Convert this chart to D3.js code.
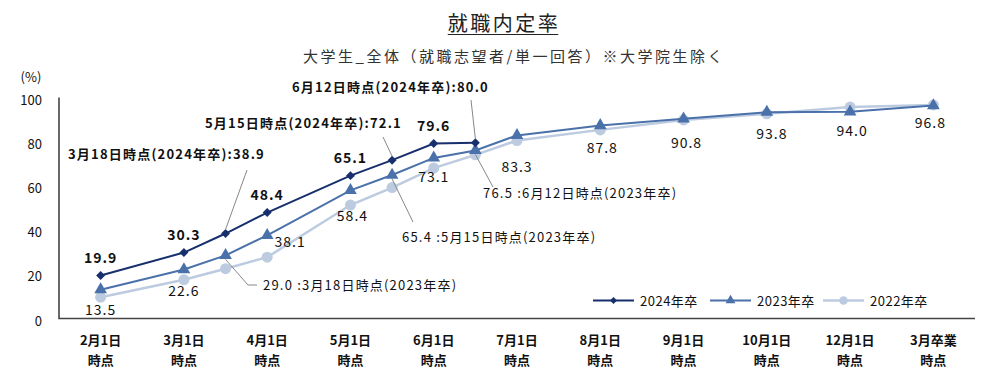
<!DOCTYPE html>
<html>
<head>
<meta charset="utf-8">
<script src="https://cdn.jsdelivr.net/npm/d3@7"></script>
<style>
  body { margin: 0; background: #fff; }
  svg text { font-family: "Noto Sans CJK JP", "Noto Sans", sans-serif; fill: #111; }
</style>
</head>
<body>
<div id="chart"></div>
<script>
// axis categories (labelled) and every date that has a measurement
const categories = ['2月1日', '3月1日', '4月1日', '5月1日', '6月1日', '7月1日', '8月1日', '9月1日', '10月1日', '12月1日', '3月卒業'];
const dates = ['2月1日', '3月1日', '3月18日', '4月1日', '5月1日', '5月15日', '6月1日', '6月12日', '7月1日', '8月1日', '9月1日', '10月1日', '12月1日', '3月卒業'];
const yTicks = [0, 20, 40, 60, 80, 100];

const s2024 = [19.9, 30.3, 38.9, 48.4, 65.1, 72.1, 79.6, 80.0];
const s2023 = [13.5, 22.6, 29.0, 38.1, 58.4, 65.4, 73.1, 76.5, 83.3, 87.8, 90.8, 93.8, 94.0, 96.8];
const s2022 = [10.1, 18.0, 23.0, 28.2, 51.8, 59.7, 68.5, 74.5, 81.0, 85.8, 90.3, 93.1, 96.1, 97.1];

const seriesNames = ['2024年卒', '2023年卒', '2022年卒'];
const calloutDates = ['3月18日', '5月15日', '6月12日'];

const width = 1000, height = 377;
const svg = d3.select('#chart').append('svg')
    .attr('width', width)
    .attr('height', height);

const x = d3.scaleBand().domain(categories).range([59, 975]).padding(0);
const y = d3.scaleLinear().domain([0, 100]).range([319.5, 98.5]);

// dates between two categories sit half way
function xPos(date) {
    if (categories.includes(date)) return x(date) + x.bandwidth() / 2;
    let i = dates.indexOf(date);
    return (xPos(dates[i - 1]) + xPos(dates[i + 1])) / 2;
}

// title
let title = svg.append('text')
    .attr('x', 504).attr('y', 31)
    .attr('text-anchor', 'middle')
    .style('font-size', '20px')
    .style('letter-spacing', '2.5px')
    .style('fill', '#222')
    .text('就職内定率');
let tb = title.node().getBBox();
svg.append('line')
    .attr('x1', tb.x).attr('x2', tb.x + tb.width - 2)
    .attr('y1', 34.5).attr('y2', 34.5)
    .attr('stroke', '#222').attr('stroke-width', 1.2);

svg.append('text')
    .attr('x', 514).attr('y', 62)
    .attr('text-anchor', 'middle')
    .style('font-size', '15px')
    .style('letter-spacing', '2.5px')
    .style('fill', '#333')
    .text('大学生_全体（就職志望者/単一回答）※大学院生除く');

svg.append('text')
    .attr('x', 31).attr('y', 82)
    .attr('text-anchor', 'middle')
    .style('font-size', '13px')
    .text('(%)');

// y axis labels
svg.append('g').selectAll('text')
    .data(yTicks)
    .join('text')
    .attr('x', 42)
    .attr('y', d => y(d) + 6)
    .attr('text-anchor', 'end')
    .style('font-size', '13px')
    .text(d => d);

// x axis labels
let xl = svg.append('g').selectAll('text')
    .data(categories)
    .join('text')
    .attr('text-anchor', 'middle')
    .style('font-size', '13px')
    .style('font-weight', 'bold');
xl.append('tspan').attr('x', d => xPos(d)).attr('y', 345).text(d => d);
xl.append('tspan').attr('x', d => xPos(d)).attr('y', 365).text('時点');

// axis lines
svg.append('path')
    .attr('d', d3.line()([[x.range()[0], y(100) - 1], [x.range()[0], 318.5], [x.range()[1], 318.5]]))
    .attr('fill', 'none')
    .attr('stroke', '#444')
    .attr('stroke-width', 1.6);

const styles = {
    '2024年卒': {color: '#172f6c', width: 2, marker: d3.symbolSquare, size: 40, rotate: 45},
    '2023年卒': {color: '#4a71a9', width: 2, marker: d3.symbolTriangle, size: 70, rotate: 0},
    '2022年卒': {color: '#bccbe0', width: 2.5, marker: d3.symbolCircle, size: 95, rotate: 0}
};

const seriesData = [
    {name: '2022年卒', values: s2022},
    {name: '2023年卒', values: s2023},
    {name: '2024年卒', values: s2024}
];

let line = d3.line()
    .x(d => xPos(d.date))
    .y(d => y(d.v));

seriesData.forEach(s => {
    let st = styles[s.name];
    let pts = s.values.map((v, i) => ({date: dates[i], v: v}));
    let g = svg.append('g');
    g.append('path')
        .datum(pts)
        .attr('d', line)
        .attr('fill', 'none')
        .attr('stroke', st.color)
        .attr('stroke-width', st.width);
    g.selectAll('path.mk')
        .data(pts)
        .join('path')
        .attr('class', 'mk')
        .attr('transform', d => 'translate(' + xPos(d.date) + ',' + y(d.v) + ') rotate(' + st.rotate + ')')
        .attr('d', d3.symbol().type(st.marker).size(st.size))
        .attr('fill', st.color);
});

// data labels 2024 (above points)
let lab2024 = s2024.map((v, i) => ({date: dates[i], v: v}))
    .filter(d => !calloutDates.includes(d.date));
svg.append('g').selectAll('text')
    .data(lab2024)
    .join('text')
    .attr('x', d => xPos(d.date))
    .attr('y', d => y(d.v) - 13)
    .attr('text-anchor', 'middle')
    .style('font-size', '14px')
    .style('font-weight', 'bold')
    .style('letter-spacing', '1px')
    .text(d => d.v.toFixed(1));

// data labels 2023 (nudges are label layout only)
const nudge2023 = {'2月1日': [0, 25], '3月1日': [0, 26], '4月1日': [23, 12], '5月1日': [2, 31],
    '6月1日': [0, 24], '7月1日': [0, 37], '8月1日': [2, 28], '9月1日': [3, 29],
    '10月1日': [5, 27], '12月1日': [2, 24], '3月卒業': [-3, 22]};
let lab2023 = s2023.map((v, i) => ({date: dates[i], v: v}))
    .filter(d => !calloutDates.includes(d.date));
svg.append('g').selectAll('text')
    .data(lab2023)
    .join('text')
    .attr('x', d => xPos(d.date) + nudge2023[d.date][0])
    .attr('y', d => y(d.v) + nudge2023[d.date][1])
    .attr('text-anchor', 'middle')
    .style('font-size', '14px')
    .style('letter-spacing', '1px')
    .text(d => d.v.toFixed(1));

// callouts
const callout2024 = {'3月18日': {tx: 68, ty: 159, lx: 247, ly: 170},
    '5月15日': {tx: 205, ty: 128, lx: 383, ly: 137},
    '6月12日': {tx: 292, ty: 92, lx: 471, ly: 100}};
const callout2023 = {'3月18日': {tx: 263, ty: 290, path: [[248, 285], [257, 285]]},
    '5月15日': {tx: 402, ty: 242, path: [[413, 222]]},
    '6月12日': {tx: 483, ty: 198, path: [[493, 187]]}};

let cg = svg.append('g');
calloutDates.forEach(date => {
    let i = dates.indexOf(date);
    let c = callout2024[date];
    cg.append('line')
        .attr('x1', c.lx).attr('y1', c.ly)
        .attr('x2', xPos(date)).attr('y2', y(s2024[i]) - 4)
        .attr('stroke', '#888').attr('stroke-width', 1);
    cg.append('text')
        .attr('x', c.tx).attr('y', c.ty)
        .style('font-size', '13px')
        .style('font-weight', 'bold')
        .style('letter-spacing', '1.2px')
        .text(date + '時点(2024年卒):' + s2024[i].toFixed(1));

    let c3 = callout2023[date];
    cg.append('path')
        .attr('d', d3.line()([[xPos(date), y(s2023[i]) + 4]].concat(c3.path)))
        .attr('fill', 'none')
        .attr('stroke', '#888').attr('stroke-width', 1);
    cg.append('text')
        .attr('x', c3.tx).attr('y', c3.ty)
        .style('font-size', '13px')
        .style('letter-spacing', '1.2px')
        .text(s2023[i].toFixed(1) + ' :' + date + '時点(2023年卒)');
});

// legend
const legendX = [593, 710, 823];
let lg = svg.append('g').selectAll('g')
    .data(seriesNames)
    .join('g')
    .attr('transform', (d, i) => 'translate(' + legendX[i] + ',300.5)');
lg.append('line')
    .attr('x1', 0).attr('x2', 41)
    .attr('stroke', d => styles[d].color)
    .attr('stroke-width', d => styles[d].width);
lg.append('path')
    .attr('transform', d => 'translate(20.5,0) rotate(' + styles[d].rotate + ')')
    .attr('d', d => d3.symbol().type(styles[d].marker).size(styles[d].size * 0.6)())
    .attr('fill', d => styles[d].color);
lg.append('text')
    .attr('x', 47).attr('y', 5)
    .style('font-size', '13px')
    .style('letter-spacing', '0.5px')
    .text(d => d);
</script>
</body>
</html>
